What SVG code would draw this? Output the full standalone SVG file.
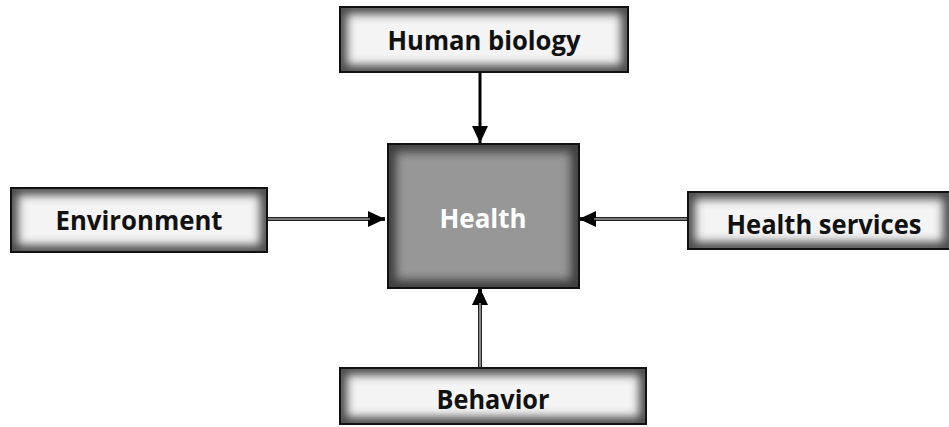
<svg xmlns="http://www.w3.org/2000/svg" width="949" height="427" viewBox="0 0 949 427">
  <defs>
    <style>
      .border { fill: none; stroke: #111; stroke-width: 2; }
      .factor { fill: #f4f4f4; }
      .core { fill: #979797; }
      .edge { fill: none; stroke: #4a4a4a; stroke-width: 14; filter: url(#soft); }
      .edge-dark { fill: none; stroke: #3c3c3c; stroke-width: 16; filter: url(#soft); }
      .label { font-family: "Open Sans", "Liberation Sans", sans-serif; font-weight: 700; font-size: 27px; fill: #111; text-anchor: middle; }
      .core-label { fill: #fff; }
      .shaft { stroke: #222; stroke-width: 4; fill: none; }
      .shaft-solid { stroke: #000; stroke-width: 3; fill: none; }
      .core-line { stroke: #d0d0d0; stroke-width: 1.2; fill: none; }
    </style>
    <!-- blur used for the shaded inner edge of the boxes -->
    <filter id="soft" x="-20%" y="-40%" width="140%" height="180%">
      <feGaussianBlur stdDeviation="5"/>
    </filter>
    <clipPath id="clip-hb"><rect x="340" y="7" width="288" height="65"/></clipPath>
    <clipPath id="clip-env"><rect x="11" y="188" width="256" height="64"/></clipPath>
    <clipPath id="clip-health"><rect x="388" y="144" width="191" height="144"/></clipPath>
    <clipPath id="clip-hs"><rect x="688" y="192" width="262" height="57"/></clipPath>
    <clipPath id="clip-beh"><rect x="340" y="368" width="306" height="56"/></clipPath>
    <marker id="head" viewBox="0 0 17 16" refX="17" refY="8" markerWidth="17" markerHeight="16" markerUnits="userSpaceOnUse" orient="auto">
      <path d="M0,0 L17,8 L0,16 Z" fill="#000"/>
    </marker>
  </defs>

  <!-- connectors -->
  <g id="connectors">
    <line class="shaft-solid" x1="480" y1="72" x2="480" y2="143" marker-end="url(#head)"/>
    <line class="shaft" x1="267" y1="219" x2="385" y2="219" marker-end="url(#head)"/>
    <line class="core-line" x1="267" y1="219" x2="370" y2="219"/>
    <line class="shaft" x1="688" y1="219" x2="579" y2="219" marker-end="url(#head)"/>
    <line class="core-line" x1="688" y1="219" x2="594" y2="219"/>
    <line class="shaft" x1="480" y1="368" x2="480" y2="288" marker-end="url(#head)"/>
    <line class="core-line" x1="480" y1="368" x2="480" y2="303"/>
  </g>

  <g id="human-biology">
    <g clip-path="url(#clip-hb)">
      <rect class="factor" x="340" y="7" width="288" height="65"/>
      <rect class="edge" x="340" y="7" width="288" height="65"/>
    </g>
    <rect class="border" x="340" y="7" width="288" height="65"/>
    <text class="label" x="484" y="50" textLength="193" lengthAdjust="spacingAndGlyphs">Human biology</text>
  </g>

  <g id="environment">
    <g clip-path="url(#clip-env)">
      <rect class="factor" x="11" y="188" width="256" height="64"/>
      <rect class="edge" x="11" y="188" width="256" height="64"/>
    </g>
    <rect class="border" x="11" y="188" width="256" height="64"/>
    <text class="label" x="139" y="230" textLength="167" lengthAdjust="spacingAndGlyphs">Environment</text>
  </g>

  <g id="health">
    <g clip-path="url(#clip-health)">
      <rect class="core" x="388" y="144" width="191" height="144"/>
      <rect class="edge-dark" x="388" y="144" width="191" height="144"/>
    </g>
    <rect class="border" x="388" y="144" width="191" height="144"/>
    <text class="label core-label" x="483" y="228" textLength="87" lengthAdjust="spacingAndGlyphs">Health</text>
  </g>

  <g id="health-services">
    <g clip-path="url(#clip-hs)">
      <rect class="factor" x="688" y="192" width="262" height="57"/>
      <rect class="edge" x="688" y="192" width="262" height="57"/>
    </g>
    <rect class="border" x="688" y="192" width="262" height="57"/>
    <text class="label" x="824" y="234" textLength="195" lengthAdjust="spacingAndGlyphs">Health services</text>
  </g>

  <g id="behavior">
    <g clip-path="url(#clip-beh)">
      <rect class="factor" x="340" y="368" width="306" height="56"/>
      <rect class="edge" x="340" y="368" width="306" height="56"/>
    </g>
    <rect class="border" x="340" y="368" width="306" height="56"/>
    <text class="label" x="493" y="409" textLength="113" lengthAdjust="spacingAndGlyphs">Behavior</text>
  </g>
</svg>
